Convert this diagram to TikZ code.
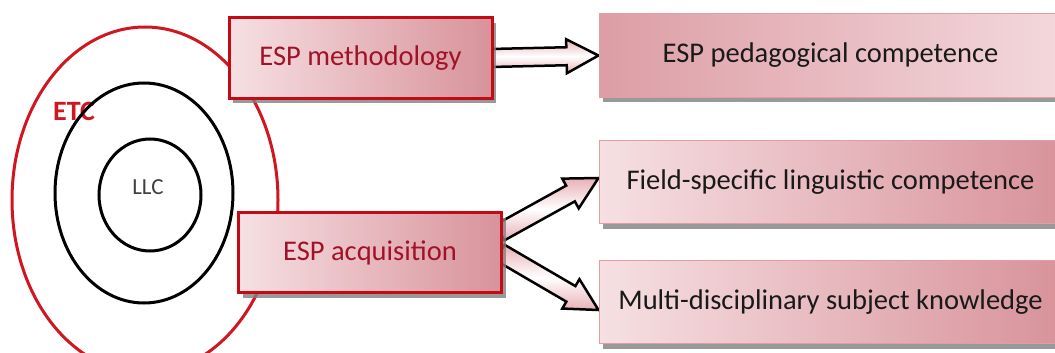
\documentclass[tikz,border=0pt]{standalone}
\usepackage{fontspec}
\setmainfont{Carlito}
\usepackage{tikz}
\usetikzlibrary{calc,shadows,backgrounds,positioning}

\definecolor{etcred}{RGB}{208,22,32}
\definecolor{boxred}{RGB}{196,10,20}
\definecolor{textred}{RGB}{160,18,40}
\definecolor{pinklight}{RGB}{246,224,227}
\definecolor{pinkdark}{RGB}{216,146,154}
\definecolor{pinkline}{RGB}{228,156,164}
\definecolor{arrowpink}{RGB}{232,176,182}

\tikzset{
  espbox/.style={draw=boxred, line width=3pt, left color=pinklight, right color=pinkdark,
    minimum width=263pt, minimum height=80pt, inner sep=0pt, text=textred,
    font=\fontsize{28.5}{34}\selectfont,
    drop shadow={shadow xshift=4pt, shadow yshift=-5pt, fill=black!50, opacity=.8}},
  compbox/.style={draw=pinkline, line width=1pt, left color=pinklight, right color=pinkdark,
    minimum width=463pt, minimum height=83pt, inner sep=0pt, text=black!90,
    font=\fontsize{28.5}{34}\selectfont,
    drop shadow={shadow xshift=4pt, shadow yshift=-5pt, fill=black!50, opacity=.8}},
  blockarrow/.style={draw=black, line width=2.5pt, line join=miter,
    top color=arrowpink, bottom color=arrowpink, middle color=white}
}

\begin{document}
\begin{tikzpicture}[x=1pt, y=-1pt]

    \useasboundingbox (0,0) rectangle (1055,353);

% the boxes

    \node[espbox] (meth) at (360.5,58) {ESP methodology};
    \node[espbox] (acq) at (370,252.5) {ESP acquisition};

    \node[compbox, left color=pinkdark!85!pinklight, right color=pinklight!90!pinkdark] (ped) at (830.5,55.5)
      {ESP pedagogical competence};
    \node[compbox] (field) at (830.5,182) {Field-specific linguistic competence};
    \node[compbox] (multi) at (830.5,302) {Multi-disciplinary subject knowledge};

    \node[text=black!75, font=\fontsize{23}{26}\selectfont] (llc) at (148,187) {LLC};

    \begin{scope}[on background layer]

% the circles

    \draw[etcred, line width=3pt] (145,200) ellipse [x radius=133, y radius=173];
    \node[text=etcred, font=\bfseries\fontsize{28}{32}\selectfont] (etc) at (74,111) {ETC};
    \draw[black, line width=3pt] (144,193) ellipse [x radius=89, y radius=110];
    \draw[black, line width=3pt] (150,195) ellipse [x radius=51, y radius=56];

% the arrows

    \coordinate (methout) at ($(meth.east)+(-3,0)$);
    \coordinate (pedin) at (ped.west);
    \coordinate (acqup) at ($(acq.east)+(-3,-20)$);
    \coordinate (fieldin) at ($(field.west)+(0,-4)$);
    \coordinate (acqdown) at ($(acq.east)+(-3,0)$);
    \coordinate (multiin) at ($(multi.west)+(0,8)$);

    \foreach \s/\t in {methout/pedin, acqup/fieldin, acqdown/multiin}{
      \coordinate (hb) at ($(\t)!32pt!(\s)$);
      \draw[blockarrow] ($(\s)!9pt!90:(\t)$) -- ($(hb)!9pt!90:(\t)$)
        -- ($(hb)!17pt!90:(\t)$) -- (\t) -- ($(hb)!17pt!-90:(\t)$)
        -- ($(hb)!9pt!-90:(\t)$) -- ($(\s)!9pt!-90:(\t)$) -- cycle;
    }

    \end{scope}

\end{tikzpicture}
\end{document}
